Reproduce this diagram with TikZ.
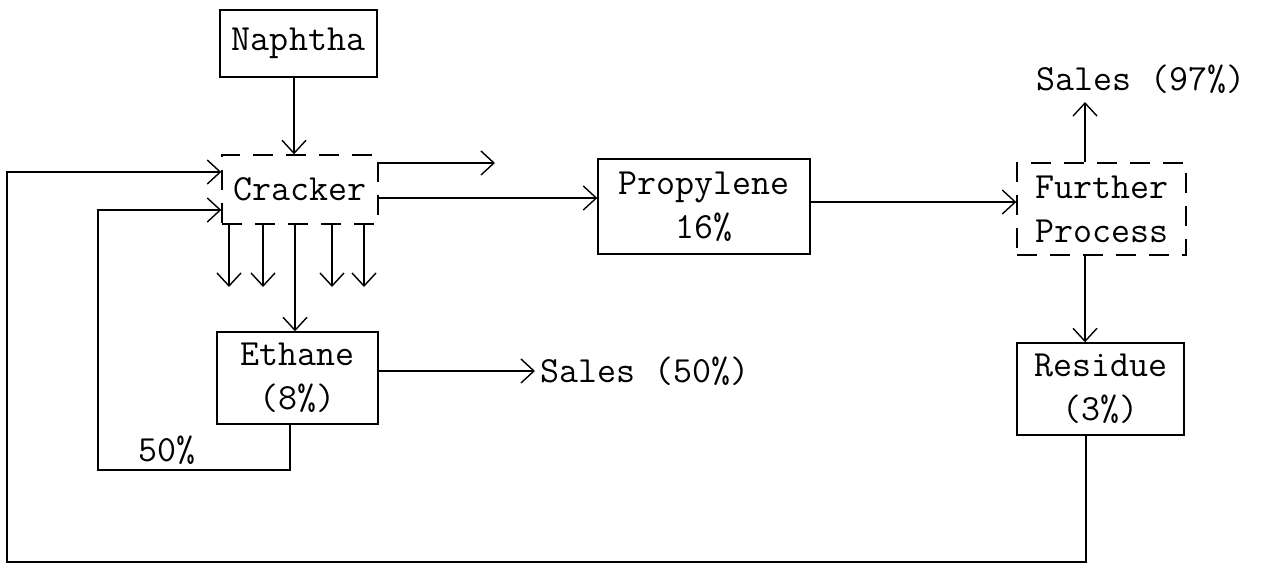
\documentclass[tikz,border=0pt]{standalone}
\usepackage{tikz}
\usetikzlibrary{arrows.meta,positioning}

\begin{document}
\begin{tikzpicture}[%
  font=\ttfamily\fontsize{21}{25}\selectfont,
  >={Straight Barb[length=2.6mm,width=4.8mm]},
  line width=0.8pt,
  unit/.style={draw=black,align=center,inner sep=0pt},
  proc/.style={unit,dash pattern=on 4mm off 2.6mm},
  flow/.style={->},
  desc/.style={inner sep=0pt}
]
  \useasboundingbox (0,0) rectangle (25.24,-11.4);

  % boxes
  \node (naphtha) at (5.97,-0.87) [unit,minimum width=3.14cm,minimum height=1.34cm] {Naphtha};
  \node (cracker) at (6.0,-3.79) [proc,minimum width=3.12cm,minimum height=1.38cm] {Cracker};
  \node (ethane) at (5.95,-7.56) [unit,minimum width=3.22cm,minimum height=1.84cm] {Ethane\\(8\%)};
  \node (propylene) at (14.08,-4.13) [unit,minimum width=4.24cm,minimum height=1.9cm] {Propylene\\16\%};
  \node (further) at (22.03,-4.18) [proc,minimum width=3.38cm,minimum height=1.84cm] {Further\\Process};
  \node (residue) at (22.01,-7.78) [unit,minimum width=3.34cm,minimum height=1.84cm] {Residue\\(3\%)};

  % free texts
  \node (sales97) at (22.82,-1.58) [desc] {Sales (97\%)};
  \node (sales50) at (10.8,-7.42) [desc,anchor=west] {Sales (50\%)};
  \node (pct50) at (3.34,-9.0) [desc] {50\%};

  % free ends and corners
  \coordinate (out1) at (9.9,-3.26);
  \coordinate (loopA) at (1.96,-9.4);
  \coordinate (loopB) at (0.14,-11.24);

  % connectors
  \draw[flow] (naphtha.south -| 5.88,0) -- (cracker.north -| 5.88,0);
  \draw[flow] (cracker.east |- out1) -- (out1);
  \draw[flow] (cracker.east |- 0,-3.96) -- (propylene.west |- 0,-3.96);
  \draw[flow] (propylene.east |- 0,-4.04) -- (further.west |- 0,-4.04);
  \draw[flow] (further.north -| 21.7,0) -- (21.7,-2.04);
  \draw[flow] (further.south -| 21.7,0) -- (residue.north -| 21.7,0);
  \foreach \xx [count=\i] in {4.58,5.26,6.64,7.28} {
    \coordinate (drop\i) at (\xx,-5.74);
    \draw[flow] (cracker.south -| drop\i) -- (drop\i);
  }
  \draw[flow] (cracker.south -| 5.9,0) -- (ethane.north -| 5.9,0);
  \draw[flow] (ethane.east |- sales50.west) -- ([xshift=-1mm]sales50.west);
  \draw[flow] (ethane.south -| 5.8,0) |- (loopA) |- (cracker.west |- 0,-4.2);
  \draw[flow] (residue.south -| 21.72,0) |- (loopB) |- (cracker.west |- 0,-3.44);
\end{tikzpicture}
\end{document}
